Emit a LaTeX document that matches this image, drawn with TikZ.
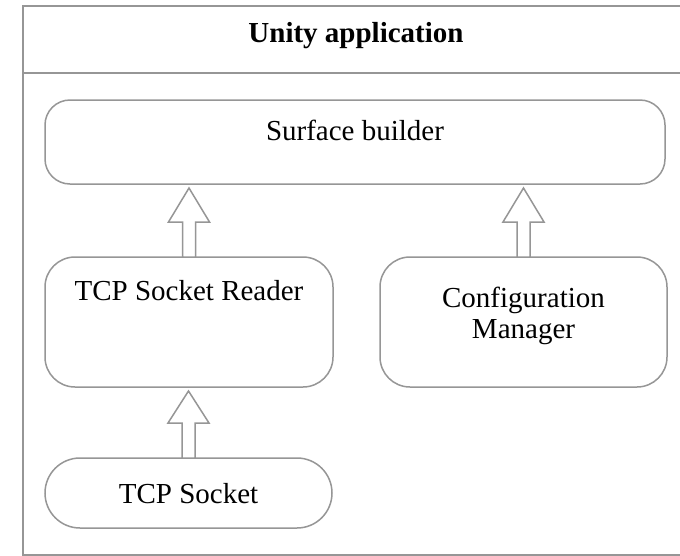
\documentclass[tikz,border=0pt]{standalone}
\usepackage{fontspec}
\setmainfont{Liberation Serif}
\usetikzlibrary{calc}
\definecolor{linegray}{RGB}{150,150,150}
\tikzset{
  rbox/.style={draw=linegray, line width=1.5pt, fill=white, inner sep=0pt, outer sep=0pt, rectangle},
  lbl/.style={font=\fontsize{29}{31}\selectfont, align=center, inner sep=0pt, text=black},
  barrow/.style={draw=linegray, line width=1.5pt, fill=white, line join=miter}
}
\newcommand{\blockarrow}[2]{%
  \draw[barrow] ($(#1.north)+(-6.5,0)$) -- ($(#1.north)+(-6.5,-35)$) -- ($(#1.north)+(-20.5,-35)$)
    -- ($(#1.north |- #2.south)+(0,4)$) -- ($(#1.north)+(20.5,-35)$) -- ($(#1.north)+(6.5,-35)$)
    -- ($(#1.north)+(6.5,0)$) -- cycle;}
\begin{document}
\begin{tikzpicture}[x=1pt,y=-1pt]
\path[use as bounding box, clip] (0,0) rectangle (680,555);
\fill[white] (0,0) rectangle (680,555);
% outer container
\node[draw=linegray, line width=1.6pt, rectangle, inner sep=0pt, minimum width=700pt, minimum height=549pt, anchor=north west] (app) at (22,5) {};
\coordinate (hl) at (22,73);
\draw[draw=linegray, line width=1.6pt] (hl) -- (hl -| app.east);
\node[lbl, font=\fontsize{29}{31}\selectfont\bfseries] (title) at (356,36) {Unity application};
% boxes
\node[rbox, rounded corners=25pt, minimum width=620pt, minimum height=84pt] (sb) at (355,142) {};
\node[lbl] (sbt) at (355,130) {Surface builder};
\node[rbox, rounded corners=30pt, minimum width=288pt, minimum height=130pt] (rd) at (189,322) {};
\node[lbl] (rdt) at (189,291) {TCP Socket Reader};
\node[rbox, rounded corners=30pt, minimum width=287pt, minimum height=130pt] (cm) at (523.5,322) {};
\node[lbl] (cmt) at (523.5,316) {Configuration\\Manager};
\node[rbox, rounded corners=35pt, minimum width=287pt, minimum height=70pt] (ts) at (188.5,493) {};
\node[lbl] (tst) at (188.5,494) {TCP Socket};
% arrows
\blockarrow{rd}{sb}
\blockarrow{cm}{sb}
\blockarrow{ts}{rd}
\end{tikzpicture}
\end{document}
